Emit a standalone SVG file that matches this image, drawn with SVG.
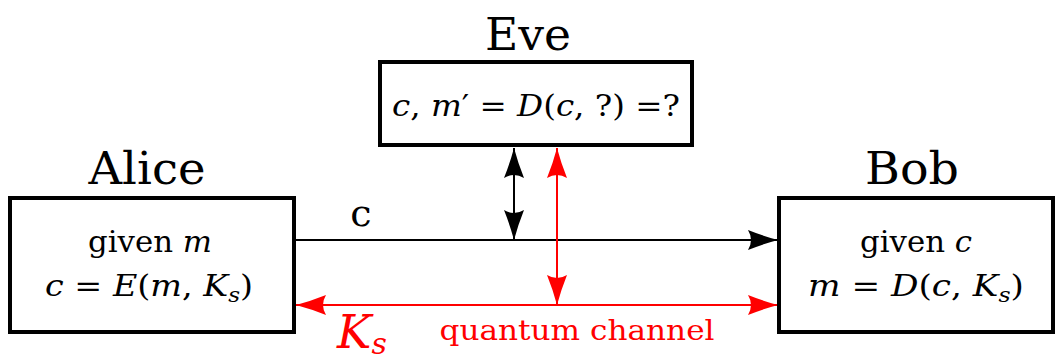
<svg xmlns="http://www.w3.org/2000/svg" width="1057" height="360" viewBox="0 0 1057 360" font-family="'DejaVu Serif', 'Liberation Serif', serif">
<style>
text{fill:#000}
.box{fill:#fff;stroke:#000;stroke-width:4}
.title{font-size:44px;text-anchor:middle}
.body{font-size:29px;text-anchor:middle}
.i{font-style:italic}
.red{fill:#f00}
.wire{fill:none;stroke:#000;stroke-width:2}
.rwire{fill:none;stroke:#f00;stroke-width:2}
</style>
<defs>
<marker id="ab" viewBox="-30 -11 32 22" refX="0" refY="0" markerWidth="32" markerHeight="22" markerUnits="userSpaceOnUse" orient="auto-start-reverse">
<path d="M0,0 Q-15,-4 -30,-10 Q-24,0 -30,10 Q-15,4 0,0 Z" fill="#000"/>
</marker>
<marker id="ar" viewBox="-30 -11 32 22" refX="0" refY="0" markerWidth="32" markerHeight="22" markerUnits="userSpaceOnUse" orient="auto-start-reverse">
<path d="M0,0 Q-15,-4 -30,-10 Q-24,0 -30,10 Q-15,4 0,0 Z" fill="#f00"/>
</marker>
</defs>
<g id="connectors">
<path class="wire" d="M295,240 H778" marker-end="url(#ab)"/>
<text x="361" y="226" font-size="38" text-anchor="middle">c</text>
<path class="wire" d="M514,148 V240" marker-start="url(#ab)" marker-end="url(#ab)"/>
<path class="rwire" d="M557,148 V305" marker-start="url(#ar)" marker-end="url(#ar)"/>
<path class="rwire" d="M296,305 H778" marker-start="url(#ar)" marker-end="url(#ar)"/>
<text x="337" y="348" font-size="46" class="i red">K<tspan font-size="30" dy="6">s</tspan></text>
<text x="577" y="340" font-size="28" class="red" text-anchor="middle" textLength="275" lengthAdjust="spacingAndGlyphs">quantum channel</text>
</g>
<g id="eve">
<text class="title" x="528" y="50" textLength="86" lengthAdjust="spacingAndGlyphs">Eve</text>
<rect class="box" x="380" y="62" width="312" height="83"/>
<text class="body" x="536" y="116" textLength="288" lengthAdjust="spacingAndGlyphs"><tspan class="i">c</tspan>, <tspan class="i">m</tspan>′ = <tspan class="i">D</tspan>(<tspan class="i">c</tspan>, ?) =?</text>
</g>
<g id="alice">
<text class="title" x="147" y="184" textLength="117" lengthAdjust="spacingAndGlyphs">Alice</text>
<rect class="box" x="10" y="198" width="284" height="134"/>
<text class="body" x="150" y="252" textLength="124" lengthAdjust="spacingAndGlyphs">given <tspan class="i">m</tspan></text>
<text class="body" x="149" y="296" textLength="208" lengthAdjust="spacingAndGlyphs"><tspan class="i">c</tspan> = <tspan class="i">E</tspan>(<tspan class="i">m</tspan>, <tspan class="i">K</tspan><tspan class="i" font-size="20" dy="6">s</tspan><tspan dy="-6">)</tspan></text>
</g>
<g id="bob">
<text class="title" x="912" y="184" textLength="94" lengthAdjust="spacingAndGlyphs">Bob</text>
<rect class="box" x="779" y="198" width="274" height="134"/>
<text class="body" x="916" y="252" textLength="112" lengthAdjust="spacingAndGlyphs">given <tspan class="i">c</tspan></text>
<text class="body" x="916" y="296" textLength="216" lengthAdjust="spacingAndGlyphs"><tspan class="i">m</tspan> = <tspan class="i">D</tspan>(<tspan class="i">c</tspan>, <tspan class="i">K</tspan><tspan class="i" font-size="20" dy="6">s</tspan><tspan dy="-6">)</tspan></text>
</g>
</svg>
